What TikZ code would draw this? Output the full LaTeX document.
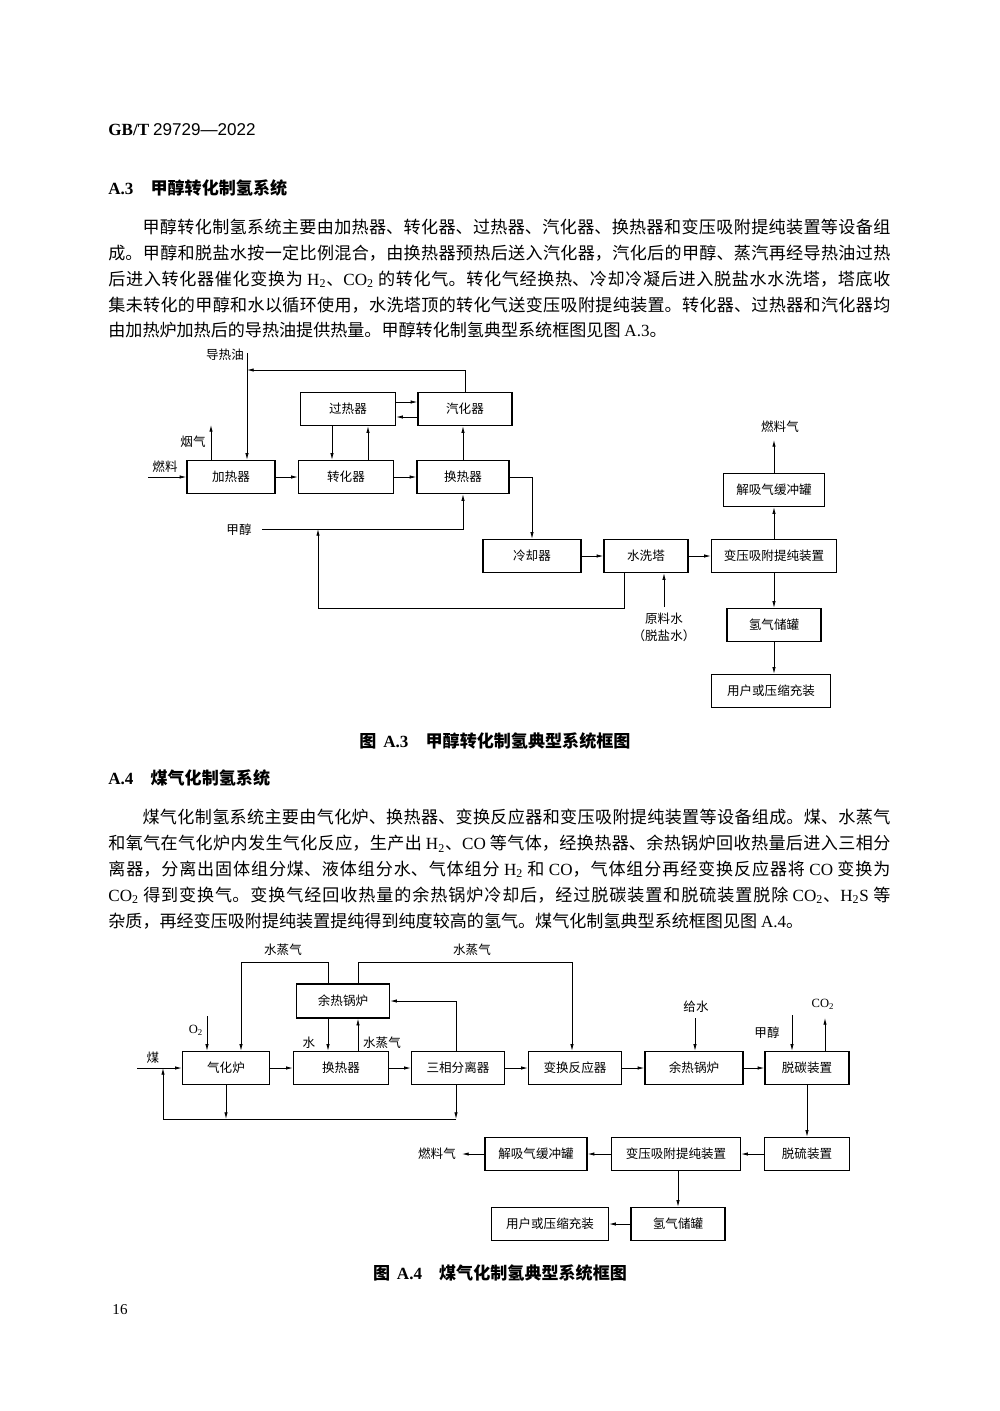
\documentclass[tikz,border=0pt]{standalone}
\usepackage{fontspec}
\setmainfont{Noto Sans CJK SC}
\newfontfamily\lat{Liberation Serif}
\newfontfamily\lsans{Liberation Sans}
\usetikzlibrary{arrows.meta,positioning}
\XeTeXlinebreaklocale "zh"
\XeTeXlinebreakskip=0pt plus 2pt minus 0.3pt
\def\upx{0.021cm}
\newcommand\dfont{\fontsize{7.5}{10}\selectfont}
\newcommand\bfont{\fontsize{10.2}{15.4}\selectfont}
\newcommand\hfont{\fontsize{10.2}{12}\selectfont\bfseries}
\begin{document}
\begin{tikzpicture}[
x=0.021cm, y=-0.021cm,
line width=0.45pt,
box/.style={draw, line width=0.8pt, minimum height=33*\upx, inner sep=1pt, font=\dfont},
lbl/.style={font=\dfont, inner sep=0pt},
para/.style={text width=782*\upx, align=justify, inner sep=0pt, font=\bfont, anchor=north west},
head/.style={font=\hfont, inner sep=0pt, anchor=west},
>={Latex[length=4pt,width=2pt]}
]
\fill[white] (0,0) rectangle (1000,1411);
\useasboundingbox (0,0) rectangle (1000,1411);

% page text
\node[head] (std) at (108,130) {{\lat\bfseries GB/T} {\lsans\mdseries 29729—2022}};
\node[head] (secA3) at (108,188) {{\lat A.3}\hspace{1em}甲醇转化制氢系统};
\node[para] (parA3) at (108,219) {\hspace*{2em}甲醇转化制氢系统主要由加热器、转化器、过热器、汽化器、换热器和变压吸附提纯装置等设备组\linebreak
成。甲醇和脱盐水按一定比例混合，由换热器预热后送入汽化器，汽化后的甲醇、蒸汽再经导热油过热\linebreak
后进入转化器催化变换为 {\lat H\textsubscript{2}}、{\lat CO\textsubscript{2}} 的转化气。转化气经换热、冷却冷凝后进入脱盐水水洗塔，塔底收\linebreak
集未转化的甲醇和水以循环使用，水洗塔顶的转化气送变压吸附提纯装置。转化器、过热器和汽化器均\linebreak
由加热炉加热后的导热油提供热量。甲醇转化制氢典型系统框图见图 {\lat A.3}。};

% figure A.3
\node[box, minimum width=88*\upx] (heater) at (231,477) {加热器};
\node[box, minimum width=95*\upx] (reformer) at (346,477) {转化器};
\node[box, minimum width=92*\upx] (hx) at (463,477) {换热器};
\node[box, minimum width=95*\upx] (superheater) at (348,409) {过热器};
\node[box, minimum width=94*\upx] (vaporizer) at (465,409) {汽化器};
\node[box, minimum width=98*\upx] (cooler) at (532,556) {冷却器};
\node[box, minimum width=84*\upx] (washer) at (646,556) {水洗塔};
\node[box, minimum width=125*\upx] (psa) at (774,556) {变压吸附提纯装置};
\node[box, minimum width=101*\upx] (buffer) at (774,490) {解吸气缓冲罐};
\node[box, minimum width=94*\upx] (tank) at (774,625) {氢气储罐};
\node[box, minimum width=119*\upx] (user) at (771,691) {用户或压缩充装};

\node[lbl] (oil) at (225,355) {导热油};
\node[lbl] (fuel) at (165,467) {燃料};
\node[lbl] (flue) at (193,442) {烟气};
\node[lbl] (meoh) at (239,530) {甲醇};
\node[lbl, align=center] (raw) at (664,627) {原料水\\（脱盐水）};
\node[lbl] (fuelgas) at (780,427) {燃料气};

\coordinate (oilin) at (247,353);
\coordinate (oilret) at (247,370);
\coordinate (fuelin) at (148,477);
\coordinate (flueout) at (211,425);
\coordinate (meohin) at (262,529);
\coordinate (ret) at (318,608);
\coordinate (rawin) at (664,607);
\coordinate (fgout) at (774,440);

\draw[->] (oilin) -- (oilin |- heater.north);
\draw[->] (vaporizer.north) |- (oilret);
\draw[->] (fuelin) -- (heater);
\draw[->] (flueout |- heater.north) -- (flueout);
\draw[->] (heater) -- (reformer);
\draw[->] (reformer) -- (hx);
\draw[->] (superheater.east |- 0,402) -- (vaporizer.west |- 0,402);
\draw[->] (vaporizer.west |- 0,417) -- (superheater.east |- 0,417);
\draw[->] (superheater.south -| 332,0) -- (reformer.north -| 332,0);
\draw[->] (reformer.north -| 368,0) -- (superheater.south -| 368,0);
\draw[->] (hx.north) -- (hx.north |- vaporizer.south);
\draw[->] (meohin) -| (hx.south);
\draw[->] (washer.south -| 624,0) |- (ret) -- (ret |- meohin);
\draw[->] (hx.east) -| (cooler.north);
\draw[->] (cooler) -- (washer);
\draw[->] (washer) -- (psa);
\draw[->] (rawin) -- (rawin |- washer.south);
\draw[->] (psa) -- (buffer);
\draw[->] (buffer) -- (fgout);
\draw[->] (psa) -- (tank);
\draw[->] (tank.south) -- (tank.south |- user.north);

\node[head, anchor=center, font=\fontsize{10.2}{12}\selectfont\bfseries] (capA3) at (495,741) {图\hspace{0.4em}{\lat A.3}\hspace{1em}甲醇转化制氢典型系统框图};

% section A.4
\node[head] (secA4) at (108,778) {{\lat A.4}\hspace{1em}煤气化制氢系统};
\node[para] (parA4) at (108,809) {\hspace*{2em}煤气化制氢系统主要由气化炉、换热器、变换反应器和变压吸附提纯装置等设备组成。煤、水蒸气\linebreak
和氧气在气化炉内发生气化反应，生产出 {\lat H\textsubscript{2}}、{\lat CO} 等气体，经换热器、余热锅炉回收热量后进入三相分\linebreak
离器，分离出固体组分煤、液体组分水、气体组分 {\lat H\textsubscript{2}} 和 {\lat CO}，气体组分再经变换反应器将 {\lat CO} 变换为\linebreak
{\lat CO\textsubscript{2}} 得到变换气。变换气经回收热量的余热锅炉冷却后，经过脱碳装置和脱硫装置脱除 {\lat CO\textsubscript{2}}、{\lat H\textsubscript{2}S} 等\linebreak
杂质，再经变压吸附提纯装置提纯得到纯度较高的氢气。煤气化制氢典型系统框图见图 {\lat A.4}。};

% figure A.4
\node[box, minimum width=93*\upx, minimum height=34*\upx] (boilerA) at (343,1001) {余热锅炉};
\node[box, minimum width=87*\upx] (gasifier) at (226,1068) {气化炉};
\node[box, minimum width=95*\upx] (hxB) at (341,1068) {换热器};
\node[box, minimum width=93*\upx] (sep) at (458,1068) {三相分离器};
\node[box, minimum width=93*\upx] (shift) at (575,1068) {变换反应器};
\node[box, minimum width=98*\upx] (boilerB) at (694,1068) {余热锅炉};
\node[box, minimum width=84*\upx] (decarb) at (807,1068) {脱碳装置};
\node[box, minimum width=85*\upx] (desulf) at (807,1154) {脱硫装置};
\node[box, minimum width=129*\upx] (psaB) at (676,1154) {变压吸附提纯装置};
\node[box, minimum width=102*\upx] (bufferB) at (536,1154) {解吸气缓冲罐};
\node[box, minimum width=94*\upx] (tankB) at (678,1224) {氢气储罐};
\node[box, minimum width=117*\upx] (userB) at (550,1224) {用户或压缩充装};

\node[lbl] (coal) at (153,1058) {煤};
\node[lbl] (oxy) at (196,1030) {\lat O\textsubscript{2}};
\node[lbl] (steamL) at (283,950) {水蒸气};
\node[lbl] (steamR) at (472,950) {水蒸气};
\node[lbl] (water) at (309,1043) {水};
\node[lbl] (steamM) at (382,1043) {水蒸气};
\node[lbl] (feed) at (696,1007) {给水};
\node[lbl] (meohB) at (767,1033) {甲醇};
\node[lbl] (co2) at (823,1004) {\lat CO\textsubscript{2}};
\node[lbl] (fuelgasB) at (437,1154) {燃料气};

\coordinate (coalin) at (137,1068);
\coordinate (oxyin) at (207,1016);
\coordinate (stL) at (241,962);
\coordinate (stR) at (572,962);
\coordinate (loopR) at (456,1119);
\coordinate (loopL) at (163,1119);
\coordinate (feedin) at (695,1018);
\coordinate (meohBin) at (792,1015);
\coordinate (co2out) at (825,1018);
\coordinate (fgoutB) at (462,1154);

\draw[->] (coalin) -- (gasifier);
\draw[->] (oxyin) -- (oxyin |- gasifier.north);
\draw[->] (boilerA.north -| 328,0) |- (stL) -- (stL |- gasifier.north);
\draw[->] (boilerA.north -| 358,0) |- (stR) -- (stR |- shift.north);
\draw[->] (boilerA.south -| 328,0) -- (hxB.north -| 328,0);
\draw[->] (hxB.north -| 358,0) -- (boilerA.south -| 358,0);
\draw[->] (sep.north -| loopR) |- (boilerA.east);
\draw[->] (gasifier) -- (hxB);
\draw[->] (hxB) -- (sep);
\draw[->] (sep) -- (shift);
\draw[->] (shift) -- (boilerB);
\draw[->] (boilerB) -- (decarb);
\draw[->] (gasifier.south) -- (gasifier.south |- loopL);
\draw[->] (sep.south -| loopR) -- (loopR);
\draw[->] (loopR) -- (loopL) -- (loopL |- coalin);
\draw[->] (feedin) -- (feedin |- boilerB.north);
\draw[->] (meohBin) -- (meohBin |- decarb.north);
\draw[->] (co2out |- decarb.north) -- (co2out);
\draw[->] (decarb) -- (desulf);
\draw[->] (desulf) -- (psaB);
\draw[->] (psaB) -- (bufferB);
\draw[->] (bufferB) -- (fgoutB);
\draw[->] (psaB.south -| tankB) -- (tankB.north);
\draw[->] (tankB) -- (userB);

\node[head, anchor=center] (capA4) at (500,1273) {图\hspace{0.4em}{\lat A.4}\hspace{1em}煤气化制氢典型系统框图};
\node[lbl, font=\lat\fontsize{9}{10}\selectfont] (pageno) at (120,1310) {16};
\end{tikzpicture}
\end{document}
